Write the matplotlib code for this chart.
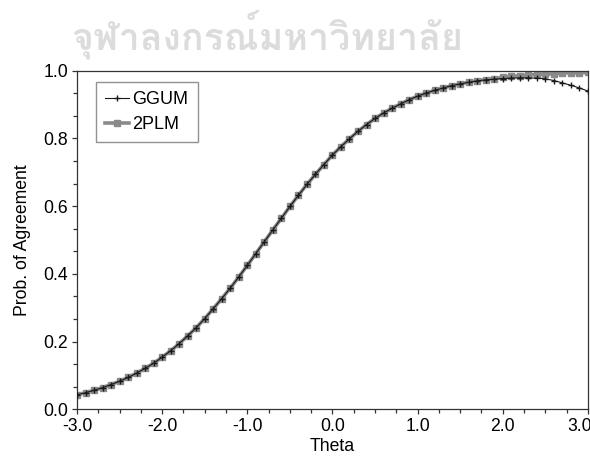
import numpy as np
import matplotlib
matplotlib.use("Agg")
import matplotlib.pyplot as plt
import matplotlib.font_manager as fm
import matplotlib.transforms as mtransforms
from matplotlib.ft2font import FT2Font
from matplotlib.ticker import MultipleLocator

theta = [round(-3.0 + 0.1 * i, 1) for i in range(61)]

plm2 = [0.043, 0.049, 0.056, 0.064, 0.073, 0.083, 0.094, 0.107, 0.121, 0.136,
        0.154, 0.173, 0.194, 0.217, 0.241, 0.268, 0.297, 0.327, 0.358, 0.391,
        0.425, 0.460, 0.495, 0.530, 0.564, 0.599, 0.632, 0.664, 0.694, 0.723,
        0.751, 0.776, 0.799, 0.821, 0.841, 0.859, 0.875, 0.889, 0.902, 0.914,
        0.925, 0.934, 0.942, 0.949, 0.956, 0.961, 0.966, 0.970, 0.974, 0.977,
        0.980, 0.983, 0.985, 0.987, 0.989, 0.990, 0.991, 0.993, 0.994, 0.994,
        0.995]

ggum = [0.043, 0.049, 0.056, 0.064, 0.073, 0.083, 0.094, 0.107, 0.121, 0.136,
        0.154, 0.173, 0.194, 0.217, 0.241, 0.268, 0.297, 0.327, 0.358, 0.391,
        0.425, 0.460, 0.495, 0.530, 0.564, 0.599, 0.632, 0.664, 0.694, 0.723,
        0.751, 0.776, 0.799, 0.821, 0.841, 0.859, 0.875, 0.889, 0.902, 0.914,
        0.925, 0.934, 0.942, 0.949, 0.956, 0.961, 0.966, 0.970, 0.973, 0.975,
        0.977, 0.978, 0.979, 0.979, 0.978, 0.976, 0.971, 0.964, 0.957, 0.949,
        0.940]

series_labels = ["GGUM", "2PLM"]
xticks = [-3.0, -2.0, -1.0, 0.0, 1.0, 2.0, 3.0]
yticks = [0.0, 0.2, 0.4, 0.6, 0.8, 1.0]
watermark = "จุฬาลงกรณ์มหาวิทยาลัย"

plt.rcParams['font.family'] = ['Liberation Sans', 'DejaVu Sans']


def find_thai_font():
    best = None
    for f in sorted(fm.findSystemFonts()):
        try:
            ft = FT2Font(f)
            cm = ft.get_charmap()
            if 0x0E08 in cm and 0x0E34 in cm and 0x0E2B in cm:
                g = ft.load_char(0x0E34)
                if g.horiAdvance == 0:
                    return f
                if best is None:
                    best = f
        except Exception:
            pass
    return best


fig = plt.figure(figsize=(5.9, 4.61), dpi=100)
ax = fig.add_axes([0.1305, 0.1121, 0.866, 0.7345])

thai = find_thai_font()
if thai:
    fig.text(0.453, 0.925, watermark, fontproperties=fm.FontProperties(fname=thai, weight='bold'),
             fontsize=27, color='#dcdcdc', ha='center', va='center')

ax.plot(theta, plm2, color='#8a8a8a', lw=2.6, marker='s', ms=3.8, mec='#8a8a8a',
        mfc='#8a8a8a', label=series_labels[1], zorder=2)
ax.plot(theta, ggum, color='#1a1a1a', lw=0.8, marker='+', ms=4.0, mew=1.0,
        label=series_labels[0], zorder=3)

ax.set_xlim(-3.0, 3.0)
ax.set_ylim(0.0, 1.0)
ax.set_xticks(xticks)
ax.set_xticklabels([f"{v:.1f}" for v in xticks])
ax.set_yticks(yticks)
ax.set_yticklabels([f"{v:.1f}" for v in yticks])
ax.xaxis.set_minor_locator(MultipleLocator(0.25))
ax.yaxis.set_minor_locator(MultipleLocator(0.2 / 3))
ax.tick_params(which='major', direction='out', length=3.5, width=0.9, color='#333333',
               labelsize=12.7, pad=3, top=False, right=False)
ax.tick_params(which='minor', direction='out', length=3.0, width=0.9, color='#333333',
               top=False, right=False)
for s in ax.spines.values():
    s.set_linewidth(0.9)
    s.set_color('#333333')

# last x tick label sits slightly left of its tick, as in the reference
last = ax.get_xticklabels()[-1]
last.set_transform(last.get_transform() + mtransforms.ScaledTranslation(-8 / 100, 0, fig.dpi_scale_trans))

ax.set_xlabel("Theta", fontsize=12.7, labelpad=2)
ax.set_ylabel("Prob. of Agreement", fontsize=12.7, labelpad=9)

handles, labels = ax.get_legend_handles_labels()
leg = ax.legend(handles[::-1], labels[::-1], loc='upper left', bbox_to_anchor=(0.038, 0.967),
                fontsize=13, frameon=True, fancybox=False, handlelength=1.3,
                handletextpad=0.2, borderpad=0.5, labelspacing=0.45, borderaxespad=0)
leg.get_frame().set_edgecolor('#777777')
leg.get_frame().set_linewidth(1.0)

fig.savefig("out.png", dpi=100)
